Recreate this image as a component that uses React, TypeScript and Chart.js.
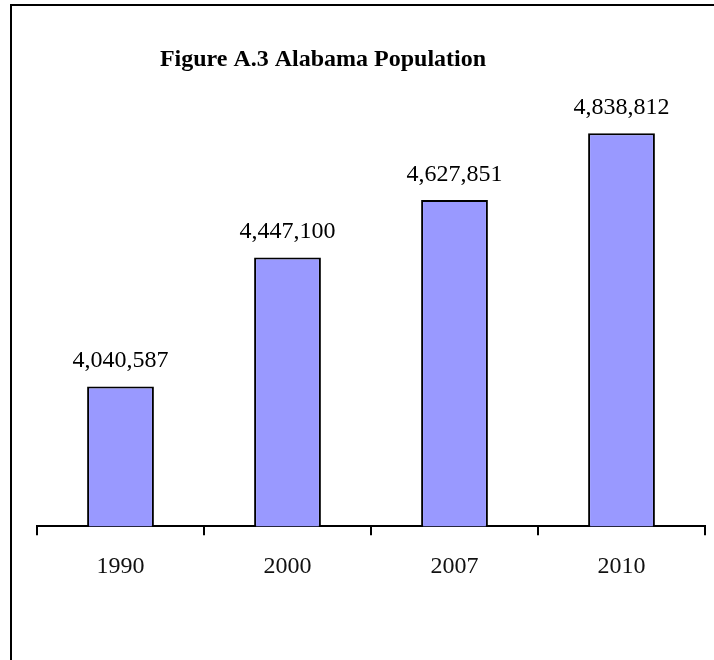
import React, { useEffect, useRef } from "react";
import { Chart, registerables } from "chart.js";

Chart.register(...registerables);

const categories: string[] = ["1990", "2000", "2007", "2010"];
const population: number[] = [4040587, 4447100, 4627851, 4838812];
const titleText = "Figure A.3 Alabama Population";
const yMin = 3600000;
const yMax = 5000000;

const SERIF = "'Liberation Serif', 'Times New Roman', serif";

const titlePlugin = {
  id: "customTitle",
  afterDraw(chart: any) {
    const { ctx } = chart;
    ctx.save();
    ctx.font = `bold 24px ${SERIF}`;
    ctx.fillStyle = "#000";
    ctx.textAlign = "center";
    ctx.textBaseline = "middle";
    ctx.fillText(titleText, 323, 60);
    ctx.restore();
  },
};

const valueLabels = {
  id: "valueLabels",
  afterDatasetsDraw(chart: any) {
    const { ctx } = chart;
    const meta = chart.getDatasetMeta(0);
    const data = chart.data.datasets[0].data as number[];
    ctx.save();
    ctx.font = `24px ${SERIF}`;
    ctx.fillStyle = "#000";
    ctx.textAlign = "center";
    ctx.textBaseline = "alphabetic";
    meta.data.forEach((bar: any, i: number) => {
      ctx.fillText(data[i].toLocaleString("en-US"), bar.x, bar.y - 19);
    });
    ctx.restore();
  },
};

export default function App() {
  const canvasRef = useRef<HTMLCanvasElement | null>(null);

  useEffect(() => {
    if (!canvasRef.current) return;
    const chart = new Chart(canvasRef.current, {
      type: "bar",
      data: {
        labels: categories,
        datasets: [
          {
            data: population,
            backgroundColor: "#9999FF",
            borderColor: "#000000",
            borderWidth: 2,
            borderSkipped: false,
            barPercentage: 0.4,
            categoryPercentage: 1,
          },
        ],
      },
      options: {
        animation: false,
        responsive: false,
        maintainAspectRatio: false,
        devicePixelRatio: 1,
        layout: { padding: { left: 37, right: 9, top: 82, bottom: 62 } },
        plugins: {
          legend: { display: false },
          title: { display: false },
          tooltip: { enabled: false },
        },
        scales: {
          x: {
            offset: true,
            grid: {
              display: true,
              drawOnChartArea: false,
              drawTicks: true,
              tickLength: 9,
              color: "#000",
              lineWidth: 2,
              offset: true,
            },
            border: { display: true, color: "#000", width: 2 },
            ticks: {
              color: "#111",
              padding: 17,
              font: { family: SERIF, size: 24 },
            },
          },
          y: {
            display: false,
            min: yMin,
            max: yMax,
          },
        },
      },
      plugins: [titlePlugin, valueLabels],
    });
    return () => chart.destroy();
  }, []);

  return (
    <div
      style={{
        position: "absolute",
        left: 0,
        top: 0,
        width: 714,
        height: 660,
        overflow: "hidden",
        background: "#fff",
      }}
    >
      <canvas
        ref={canvasRef}
        width={714}
        height={660}
        style={{ position: "absolute", left: 0, top: 0, width: 714, height: 660 }}
      />
      <div
        style={{
          position: "absolute",
          left: 10,
          top: 4,
          width: 2000,
          height: 2000,
          border: "2px solid #000",
          pointerEvents: "none",
        }}
      />
    </div>
  );
}
